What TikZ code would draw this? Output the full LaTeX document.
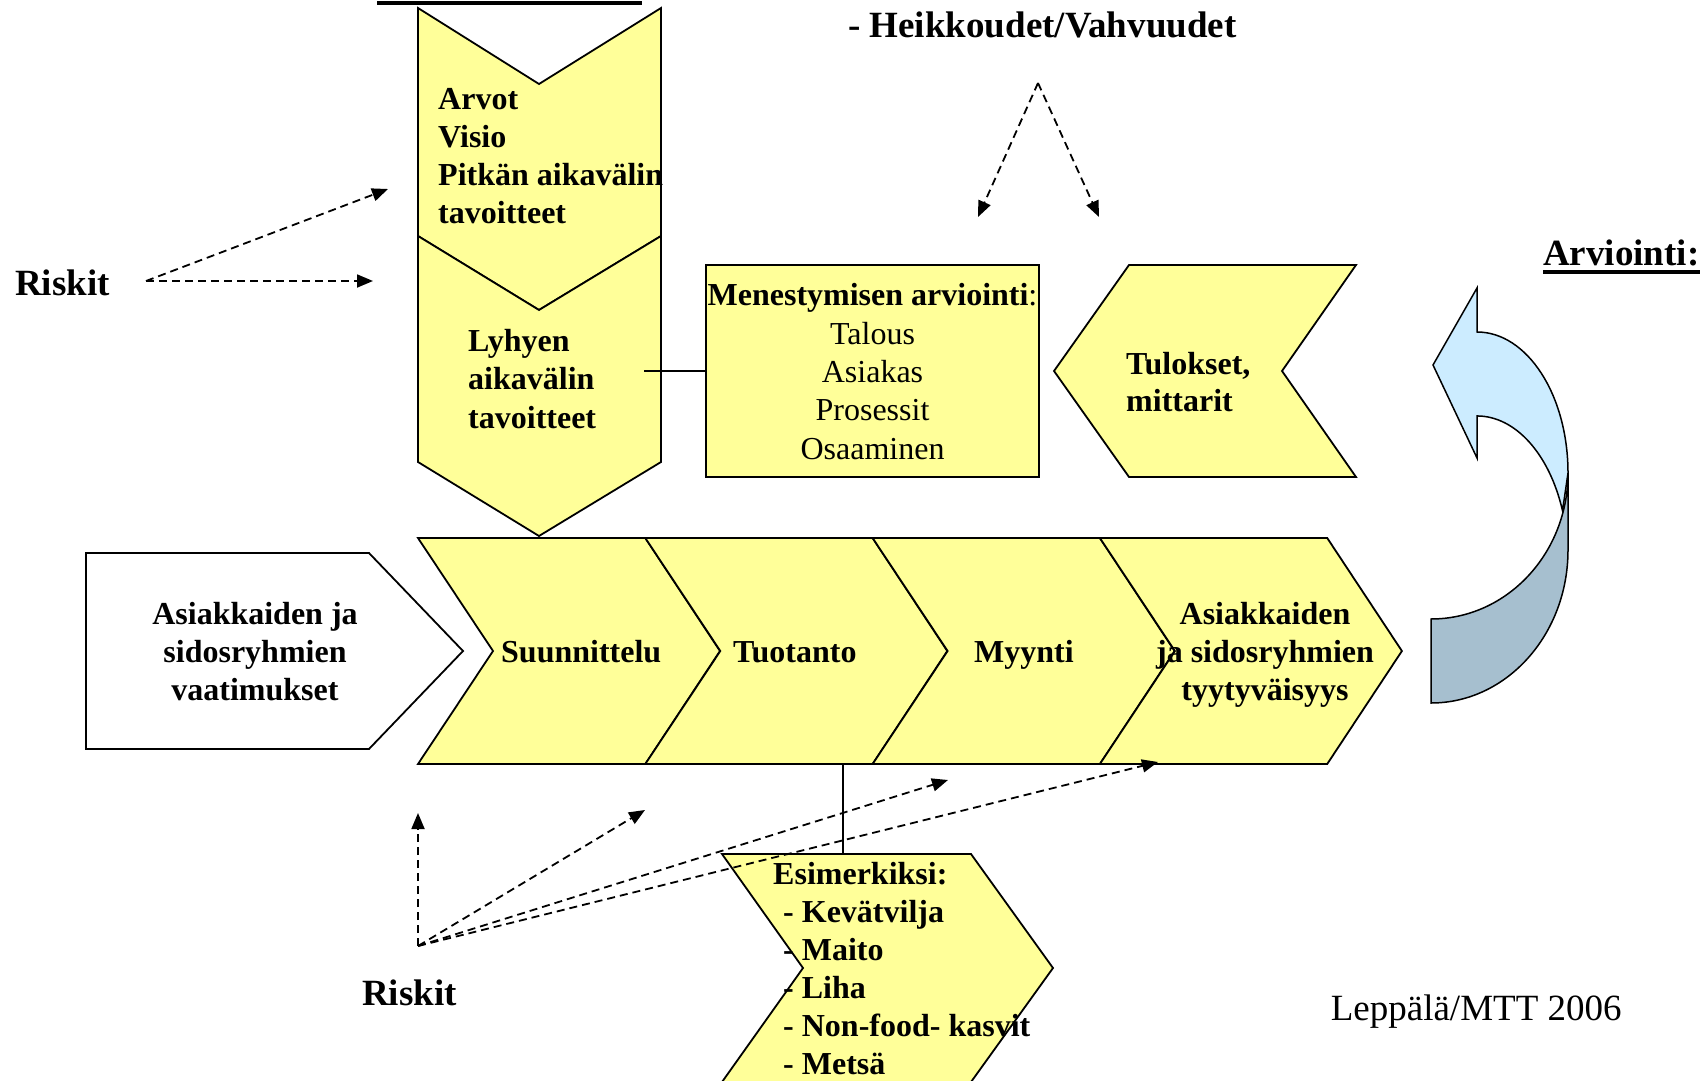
\documentclass[tikz,border=0pt]{standalone}
\usepackage{fontspec}
\setmainfont{Liberation Serif}
\usetikzlibrary{arrows.meta}
\definecolor{chevy}{HTML}{FFFF99}
\definecolor{arrlight}{HTML}{CCECFF}
\definecolor{arrdark}{HTML}{A6BFCF}
\tikzset{
  yshape/.style={draw=black, line width=1.8pt, line join=miter, fill=chevy},
  wshape/.style={draw=black, line width=1.8pt, line join=miter, fill=white},
  dasharrow/.style={line width=1.8pt, dash pattern=on 8pt off 5pt, -{Triangle[length=16pt,width=13pt]}},
  linkline/.style={line width=1.6pt},
  boxtext/.style={font=\fontsize{32}{38}\selectfont\bfseries, inner sep=0pt, anchor=base west},
  ctext/.style={font=\fontsize{32}{38}\selectfont\bfseries, inner sep=0pt, anchor=base},
  mtext/.style={font=\fontsize{32}{38}\selectfont, inner sep=0pt, anchor=base},
  bigtext/.style={font=\fontsize{37}{44}\selectfont\bfseries, inner sep=0pt, anchor=base west},
  credit/.style={font=\fontsize{37}{44}\selectfont, inner sep=0pt, anchor=base west},
  uline/.style={line width=3.5pt}
}
\begin{document}
\begin{tikzpicture}[x=1pt,y=-1pt]
\useasboundingbox (0,0) rectangle (1708,1081);

% top partial underline
\coordinate (tuA) at (377,3);
\coordinate (tuB) at (642,3);
\draw[uline] (tuA) -- (tuB);

% vertical chevrons
\draw[yshape] (418,8) -- (539,84) -- (661,8) -- (661,236) -- (539,310) -- (418,236) -- cycle;
\draw[yshape] (418,236) -- (539,310) -- (661,236) -- (661,462) -- (539,536) -- (418,462) -- cycle;

% success evaluation box
\node[yshape, minimum width=333pt, minimum height=212pt, inner sep=0pt] (mbox) at (872.5,371) {};

% results chevron (pointing left)
\draw[yshape] (1129,265) -- (1356,265) -- (1282,371) -- (1356,477) -- (1129,477) -- (1054,371) -- cycle;

% requirements pentagon
\draw[wshape] (86,553) -- (369,553) -- (463,651) -- (369,749) -- (86,749) -- cycle;

% process band
\foreach \L in {418,645.3,872.6,1099.9}{
  \draw[yshape] (\L,538) -- ({\L+227.3},538) -- ({\L+302},651) -- ({\L+227.3},764) -- (\L,764) -- ({\L+75},651) -- cycle;
}

% examples chevron
\draw[yshape] (722,854) -- (971,854) -- (1053,968) -- (971,1082) -- (722,1082) -- (803,968) -- cycle;

% curved evaluation arrow
\filldraw[fill=arrdark, draw=black, line width=1.5pt]
  (1431,619) arc[start angle=90, end angle=0, x radius=137, y radius=146]
  -- (1568,550) arc[start angle=0, end angle=90, x radius=137, y radius=153] -- cycle;
\filldraw[fill=arrlight, draw=black, line width=1.5pt, line join=miter]
  (1433,365) -- (1477,288) -- (1477,332)
  arc[start angle=-90, end angle=0, x radius=91, y radius=141]
  -- (1562.5,510.7)
  arc[start angle=-20, end angle=-90, x radius=91, y radius=144]
  -- (1477,458) -- cycle;

% solid links
\coordinate (lyhR) at (644,371);
\draw[linkline] (lyhR) -- (mbox.west);
\coordinate (bandB) at (843,764);
\coordinate (esimT) at (843,854);
\draw[linkline] (bandB) -- (esimT);

% texts (one node per printed line)
\foreach \t [count=\i] in {Arvot, Visio, Pitkän aikavälin, tavoitteet}
  \node[boxtext] (arv\i) at (438,{109.5+38*(\i-1)}) {\t};
\foreach \t [count=\i] in {Lyhyen, aikavälin, tavoitteet}
  \node[boxtext] (lyh\i) at (468,{351+38.5*(\i-1)}) {\t};
\node[mtext] (mt1) at (872.5,305) {\textbf{Menestymisen arviointi}:};
\foreach \t [count=\i] in {Talous, Asiakas, Prosessit, Osaaminen}
  \node[mtext] (mt\i x) at (872.5,{344+38.4*(\i-1)}) {\t};
\node[boxtext] (tul1) at (1126,374) {Tulokset,};
\node[boxtext] (tul2) at (1126,411) {mittarit};
\foreach \t [count=\i] in {Asiakkaiden ja, sidosryhmien, vaatimukset}
  \node[ctext] (req\i) at (255,{624+38*(\i-1)}) {\t};
\node[boxtext] (suun) at (501,662) {Suunnittelu};
\node[boxtext] (tuot) at (733,662) {Tuotanto};
\node[boxtext] (myyn) at (974,662) {Myynti};
\foreach \t [count=\i] in {Asiakkaiden, ja sidosryhmien, tyytyväisyys}
  \node[ctext] (tyy\i) at (1265,{624+38*(\i-1)}) {\t};
\node[boxtext] (esim) at (773,884) {Esimerkiksi:};
\foreach \t [count=\i] in {- Kevätvilja, - Maito, - Liha, - Non-food- kasvit, - Metsä}
  \node[boxtext] (ex\i) at (783,{922+38*(\i-1)}) {\t};
\node[bigtext] (risk1) at (15,295) {Riskit};
\node[bigtext] (risk2) at (362,1005.6) {Riskit};
\node[bigtext] (heik) at (848,38) {- Heikkoudet/Vahvuudet};
\node[bigtext] (arvi) at (1543,265) {Arviointi:};
\draw[uline] ([yshift=-7pt]arvi.base west) -- ([yshift=-7pt]arvi.base east);
\node[credit] (lepp) at (1330.6,1020) {Leppälä/MTT 2006};

% dashed arrows
\coordinate (r1) at (146,281);
\coordinate (r1a) at (388,189);
\coordinate (r1b) at (373,281);
\draw[dasharrow] (r1) -- (r1a);
\draw[dasharrow] (r1) -- (r1b);

\coordinate (hv) at (1038,83);
\coordinate (hva) at (978,217);
\coordinate (hvb) at (1099,217);
\draw[dasharrow] (hv) -- (hva);
\draw[dasharrow] (hv) -- (hvb);

\coordinate (r2) at (418,946);
\coordinate (r2a) at (418,813);
\coordinate (r2b) at (645,810);
\coordinate (r2c) at (948,780);
\coordinate (r2d) at (1158,762);
\draw[dasharrow] (r2) -- (r2a);
\draw[dasharrow] (r2) -- (r2b);
\draw[dasharrow] (r2) -- (r2c);
\draw[dasharrow] (r2) -- (r2d);
\end{tikzpicture}
\end{document}
